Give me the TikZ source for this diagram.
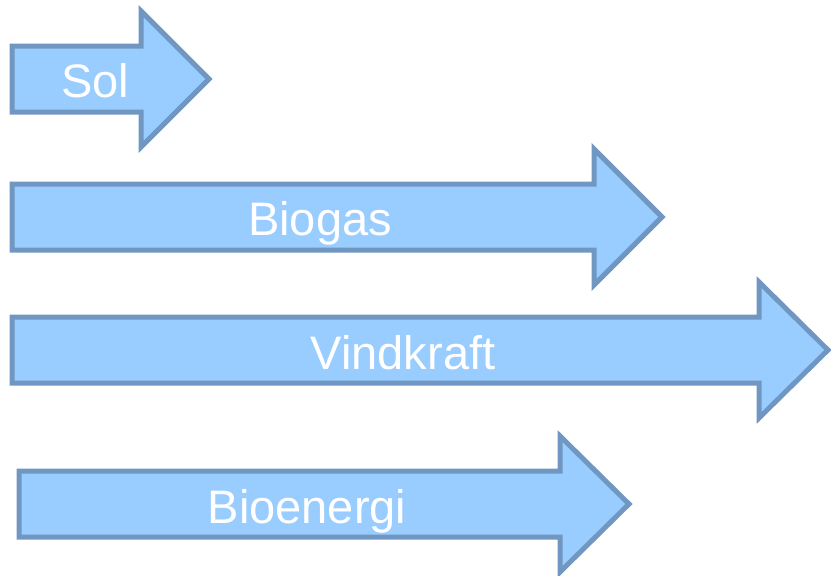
\documentclass[tikz,border=0pt]{standalone}
\usepackage{fontspec}
\setmainfont{Liberation Sans}
\usepackage{tikz}
\definecolor{arrowfill}{HTML}{99CCFF}
\definecolor{arrowline}{HTML}{7097C1}
\tikzstyle{energyarrow}=[draw=arrowline, fill=arrowfill, line width=5pt, line join=miter]
\tikzstyle{energylabel}=[text=white, anchor=base, inner sep=0, font=\fontsize{47}{47}\selectfont]
% body from #1 to #2, tip at #3, centre line at #4
\newcommand{\energyshape}[4]{%
  \draw[energyarrow] (#1,#4-33) -- (#2,#4-33) -- (#2,#4-68) -- (#3,#4)
    -- (#2,#4+68) -- (#2,#4+33) -- (#1,#4+33) -- cycle;}

\begin{document}
\begin{tikzpicture}[x=1pt, y=-1pt]
    \useasboundingbox (0,0) rectangle (831,576);
    \energyshape{12}{141}{209}{79}
    \energyshape{12}{594}{662}{217}
    \energyshape{12}{759}{828}{350}
    \energyshape{19}{560}{629}{504}
    \node[energylabel] (sol) at (95,97) {Sol};
    \node[energylabel] (biogas) at (320,235) {Biogas};
    \node[energylabel] (vindkraft) at (403,369) {Vindkraft};
    \node[energylabel] (bioenergi) at (307,523) {Bioenergi};
\end{tikzpicture}
\end{document}
